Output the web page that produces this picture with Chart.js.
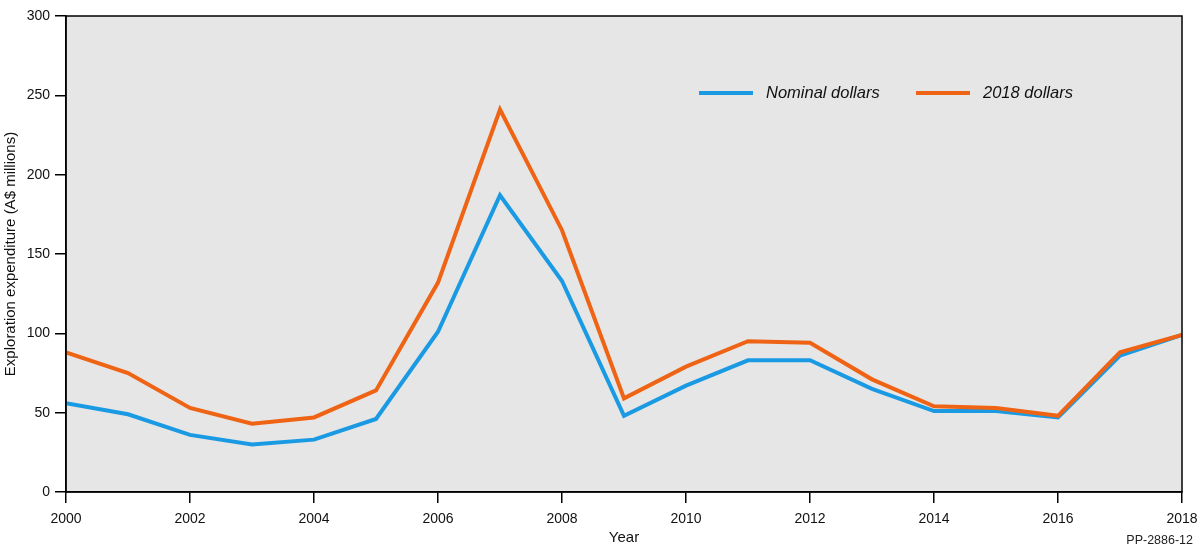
<!DOCTYPE html>
<html>
<head>
<meta charset="utf-8">
<script src="https://cdn.jsdelivr.net/npm/chart.js@4"></script>
<style>
    html, body { margin: 0; padding: 0; background: #fff; }
    #wrap { width: 1200px; height: 553px; position: relative; }
</style>
</head>
<body>
<div id="wrap"><canvas id="chart" width="1200" height="553"></canvas></div>
<script>
// Data
const years = [2000, 2001, 2002, 2003, 2004, 2005, 2006, 2007, 2008, 2009,
    2010, 2011, 2012, 2013, 2014, 2015, 2016, 2017, 2018];
const nominalDollars = [56, 49, 36, 30, 33, 46, 101, 187, 133, 48,
    67, 83, 83, 65, 51, 51, 47, 86, 99];
const realDollars2018 = [88, 75, 53, 43, 47, 64, 132, 241, 165, 59,
    79, 95, 94, 71, 54, 53, 48, 88, 99];
const seriesLabels = ['Nominal dollars', '2018 dollars'];
const xTicks = [2000, 2002, 2004, 2006, 2008, 2010, 2012, 2014, 2016, 2018];
const yTicks = [0, 50, 100, 150, 200, 250, 300];

const BLUE = '#1b9ae4';
const ORANGE = '#ef6414';
const FONT = '"Liberation Sans", Arial, Helvetica, sans-serif';

/**
 * Grey plot background plus a black frame round the chart area
 */
const plotFrame = {
    id: 'plotFrame',
    beforeDraw: (chart) => {
        const ctx = chart.ctx;
        const { left, top, width, height } = chart.chartArea;
        ctx.save();
        ctx.fillStyle = '#e6e6e6';
        ctx.fillRect(left, top, width, height);
        ctx.restore();
    },
    afterDraw: (chart) => {
        const ctx = chart.ctx;
        const { left, top, width, height } = chart.chartArea;
        ctx.save();
        ctx.strokeStyle = '#000';
        ctx.lineWidth = 1.5;
        ctx.strokeRect(left, top, width, height);
        ctx.restore();
    },
};

/**
 * Legend drawn inside the plot, plus the figure reference in the corner
 */
const insideLegend = {
    id: 'insideLegend',
    afterDraw: (chart) => {
        const ctx = chart.ctx;
        const { left, top, right } = chart.chartArea;
        const y = top + 77;
        const items = [
            { label: seriesLabels[0], colour: BLUE, x0: left + 633, x1: left + 687, tx: left + 700 },
            { label: seriesLabels[1], colour: ORANGE, x0: left + 850, x1: left + 904, tx: left + 917 },
        ];
        ctx.save();
        ctx.lineWidth = 4;
        ctx.font = 'italic 16.5px ' + FONT;
        ctx.textBaseline = 'middle';
        ctx.textAlign = 'left';
        items.forEach((it) => {
            ctx.strokeStyle = it.colour;
            ctx.beginPath();
            ctx.moveTo(it.x0, y);
            ctx.lineTo(it.x1, y);
            ctx.stroke();
            ctx.fillStyle = '#111';
            ctx.fillText(it.label, it.tx, y);
        });
        ctx.font = '12.5px ' + FONT;
        ctx.textAlign = 'right';
        ctx.fillStyle = '#222';
        ctx.fillText('PP-2886-12', right + 11, 541);
        ctx.restore();
    },
};

new Chart(document.getElementById('chart'), {
    type: 'line',
    data: {
        datasets: [
            {
                label: seriesLabels[0],
                data: years.map((yr, i) => ({ x: yr, y: nominalDollars[i] })),
                borderColor: BLUE,
                borderWidth: 4,
                order: 1,
            },
            {
                label: seriesLabels[1],
                data: years.map((yr, i) => ({ x: yr, y: realDollars2018[i] })),
                borderColor: ORANGE,
                borderWidth: 4,
                order: 0,
            },
        ],
    },
    plugins: [plotFrame, insideLegend],
    options: {
        responsive: false,
        animation: false,
        devicePixelRatio: 1,
        elements: {
            point: { radius: 0, hoverRadius: 0 },
            line: { tension: 0, borderJoinStyle: 'miter', borderCapStyle: 'butt' },
        },
        layout: {
            padding: { left: 0, right: 18, top: 16, bottom: 0 },
        },
        plugins: {
            legend: { display: false },
            tooltip: { enabled: false },
        },
        scales: {
            x: {
                type: 'linear',
                min: 2000,
                max: 2018,
                afterFit: (scale) => {
                    scale.height = 61;
                    scale.paddingLeft = 0;
                    scale.paddingRight = 0;
                },
                afterBuildTicks: (scale) => {
                    scale.ticks = xTicks.map((v) => ({ value: v }));
                },
                ticks: {
                    color: '#111',
                    font: { family: FONT, size: 14 },
                    padding: 8,
                    maxRotation: 0,
                    autoSkip: false,
                    callback: (v) => String(v),
                },
                grid: {
                    drawOnChartArea: false,
                    drawTicks: true,
                    tickLength: 11,
                    color: '#000',
                    lineWidth: 1.5,
                },
                border: { color: '#000', width: 1.5 },
                title: {
                    display: true,
                    text: 'Year',
                    color: '#111',
                    font: { family: FONT, size: 15 },
                    padding: { top: 0, bottom: 6 },
                },
            },
            y: {
                min: 0,
                max: 300,
                afterFit: (scale) => {
                    scale.width = 66;
                    scale.paddingTop = 0;
                    scale.paddingBottom = 0;
                },
                afterBuildTicks: (scale) => {
                    scale.ticks = yTicks.map((v) => ({ value: v }));
                },
                ticks: {
                    color: '#111',
                    font: { family: FONT, size: 14 },
                    padding: 5,
                },
                grid: {
                    drawOnChartArea: false,
                    drawTicks: true,
                    tickLength: 11,
                    color: '#000',
                    lineWidth: 1.5,
                },
                border: { color: '#000', width: 1.5 },
                title: {
                    display: true,
                    text: 'Exploration expenditure (A$ millions)',
                    color: '#111',
                    font: { family: FONT, size: 15 },
                    padding: { top: 2, bottom: 0 },
                },
            },
        },
    },
});
</script>
</body>
</html>
